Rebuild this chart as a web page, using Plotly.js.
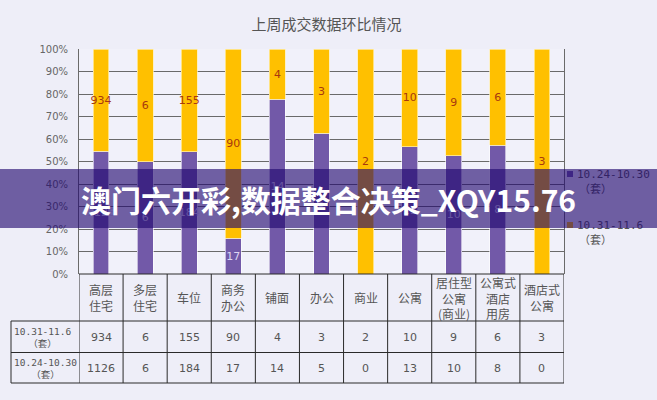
<!DOCTYPE html>
<html>
<head>
<meta charset="utf-8">
<script src="https://cdn.plot.ly/plotly-3.0.1.min.js"></script>
<style>html,body{margin:0;padding:0;background:#EEEEF8;}#chart{width:657px;height:400px;}</style>
</head>
<body>
<div id="chart"></div>
<script>
// ---- data ----
var categories = ['高层住宅','多层住宅','车位','商务办公','铺面','办公','商业','公寓','居住型公寓(商业)','公寓式酒店用房','酒店式公寓'];
var headerLabels = ['高层<br>住宅','多层<br>住宅','车位','商务<br>办公','铺面','办公','商业','公寓','居住型<br>公寓<br>(商业)','公寓式<br>酒店<br>用房','酒店式<br>公寓'];
var seriesThisWeek = [934, 6, 155, 90, 4, 3, 2, 10, 9, 6, 3];      // 10.31-11.6
var seriesLastWeek = [1126, 6, 184, 17, 14, 5, 0, 13, 10, 8, 0];   // 10.24-10.30
var nameThisWeek = '10.31-11.6';
var nameLastWeek = '10.24-10.30';
var unitLabel = '（套）';
var yTicks = [0,10,20,30,40,50,60,70,80,90,100];
var chartTitle = '上周成交数据环比情况';
var bannerText = '澳门六开彩,数据整合决策_XQY15.76';
var colorLastWeek = '#7259A8';
var colorThisWeek = '#FFC000';

// ---- geometry helpers (pixel layout) ----
var W = 657, H = 400, L = 79, R = 93, T = 49, B = 126;
var plotH = H - T - B; // 225
var plotW = W - L - R; // 485
function py(p) { return (H - B - p) / plotH; }      // pixel y -> paper y
function px(p) { return (p - L) / plotW; }          // pixel x -> paper x

var txt = function (arr) { return arr.map(function (v) { return v ? String(v) : ''; }); };

var traces = [
  {
    type: 'bar', x: categories, y: seriesLastWeek, name: nameLastWeek,
    marker: { color: colorLastWeek, line: { color: 'rgba(255,255,255,0.75)', width: 0.8 } },
    text: txt(seriesLastWeek), textposition: 'inside', insidetextanchor: 'middle', textangle: 0,
    constraintext: 'none', textfont: { color: '#DCD4F2', size: 11, family: 'DejaVu Sans, sans-serif' },
    hoverinfo: 'x+y', showlegend: false
  },
  {
    type: 'bar', x: categories, y: seriesThisWeek, name: nameThisWeek,
    marker: { color: colorThisWeek, line: { color: 'rgba(255,240,180,0.9)', width: 0.8 } },
    text: txt(seriesThisWeek), textposition: 'inside', insidetextanchor: 'middle', textangle: 0,
    constraintext: 'none', textfont: { color: '#A8380E', size: 11, family: 'DejaVu Sans, sans-serif' },
    hoverinfo: 'x+y', showlegend: false
  }
];

// ---- table (drawn against the category axis) ----
var lineC = '#2a2a2a';
var yHeadBot = py(321), yRow1Bot = py(352.5), yRow2Bot = py(383);
var xLeftPaper = px(11);
var n = categories.length;
var shapes = [];
for (var i = 0; i <= n; i++) {
  shapes.push({ type: 'line', xref: 'x', yref: 'paper', x0: i - 0.5, x1: i - 0.5, y0: 0, y1: yRow2Bot, line: { color: lineC, width: 1 } });
}
shapes.push({ type: 'line', xref: 'x', yref: 'paper', x0: -0.5, x1: n - 0.5, y0: 0, y1: 0, line: { color: lineC, width: 1 } });
[yHeadBot, yRow1Bot, yRow2Bot].forEach(function (yy) {
  shapes.push({ type: 'line', xref: 'paper', yref: 'paper', x0: xLeftPaper, x1: 1, y0: yy, y1: yy, line: { color: lineC, width: 1 } });
});
shapes.push({ type: 'line', xref: 'paper', yref: 'paper', x0: xLeftPaper, x1: xLeftPaper, y0: yHeadBot, y1: yRow2Bot, line: { color: lineC, width: 1 } });

var annotations = [];
var cellFont = { family: 'DejaVu Sans, Noto Sans CJK SC, sans-serif', size: 11, color: '#555' };
var headFont = { family: 'Noto Sans CJK SC, sans-serif', size: 12, color: '#555' };
for (var j = 0; j < n; j++) {
  annotations.push({ xref: 'x', yref: 'paper', x: j, y: py(297.5), text: headerLabels[j], showarrow: false, font: headFont, xanchor: 'center', yanchor: 'middle', align: 'center' });
  annotations.push({ xref: 'x', yref: 'paper', x: j, y: py(337), text: String(seriesThisWeek[j]), showarrow: false, font: cellFont, xanchor: 'center', yanchor: 'middle' });
  annotations.push({ xref: 'x', yref: 'paper', x: j, y: py(368), text: String(seriesLastWeek[j]), showarrow: false, font: cellFont, xanchor: 'center', yanchor: 'middle' });
}
var rowFont = { family: 'DejaVu Sans Mono, Noto Sans CJK SC, monospace', size: 9.5, color: '#555' };
annotations.push({ xref: 'paper', yref: 'paper', x: px(12), y: py(337), text: nameThisWeek + '<br>' + unitLabel, showarrow: false, font: rowFont, xanchor: 'left', yanchor: 'middle', align: 'center' });
annotations.push({ xref: 'paper', yref: 'paper', x: px(12), y: py(368), text: nameLastWeek + '<br>' + unitLabel, showarrow: false, font: rowFont, xanchor: 'left', yanchor: 'middle', align: 'center' });

// ---- legend (manual, to keep the plot width) ----
var legFont = { family: 'DejaVu Sans Mono, Noto Sans CJK SC, monospace', size: 11, color: '#555' };
[[nameLastWeek, colorLastWeek, 174], [nameThisWeek, colorThisWeek, 225]].forEach(function (it) {
  shapes.push({ type: 'rect', xref: 'paper', yref: 'paper', x0: px(567), x1: px(573), y0: py(it[2] + 3), y1: py(it[2] - 3), fillcolor: it[1], line: { width: 0 } });
  annotations.push({ xref: 'paper', yref: 'paper', x: px(575), y: py(it[2]), text: it[0], showarrow: false, font: legFont, xanchor: 'left', yanchor: 'middle' });
  annotations.push({ xref: 'paper', yref: 'paper', x: px(577), y: py(it[2] + 15), text: unitLabel, showarrow: false, font: legFont, xanchor: 'left', yanchor: 'middle' });
});

// ---- banner overlay (annotation with a translucent box, drawn last) ----
annotations.push({
  xref: 'paper', yref: 'paper', x: px(W / 2), y: py(198.5), xanchor: 'center', yanchor: 'middle',
  width: W, height: 59, borderpad: 0, borderwidth: 0, bgcolor: 'rgba(30,5,110,0.62)',
  text: '<b>' + bannerText + '</b>', showarrow: false, align: 'center', valign: 'middle',
  font: { family: 'Noto Sans CJK SC, Noto Sans, sans-serif', size: 30, color: '#ffffff' }
});

var layout = {
  width: W, height: H,
  margin: { l: L, r: R, t: T, b: B, pad: 0 },
  paper_bgcolor: '#EEEEF8', plot_bgcolor: '#F1F1FA',
  title: { text: chartTitle, x: 0.497, xanchor: 'center', y: 1 - 25 / H, yanchor: 'middle', font: { family: 'Noto Sans CJK SC, sans-serif', size: 15, color: '#555' } },
  barmode: 'stack', barnorm: 'percent', bargap: 0.64,
  xaxis: { type: 'category', range: [-0.5, n - 0.5], showticklabels: false, ticks: '', showgrid: false, zeroline: false, showline: false, fixedrange: true },
  yaxis: {
    range: [0, 100], tickvals: yTicks, ticktext: yTicks.map(function (v) { return v + '%'; }),
    showgrid: true, gridcolor: '#6a6a6a', gridwidth: 1, zeroline: false,
    showline: true, linecolor: '#6a6a6a', linewidth: 1, mirror: true, ticks: '', ticklabelstandoff: 8,
    tickfont: { family: 'DejaVu Sans, sans-serif', size: 10, color: '#666' }, fixedrange: true
  },
  showlegend: false,
  shapes: shapes,
  annotations: annotations
};

Plotly.newPlot('chart', traces, layout, { displayModeBar: false, staticPlot: true });
</script>
</body>
</html>
